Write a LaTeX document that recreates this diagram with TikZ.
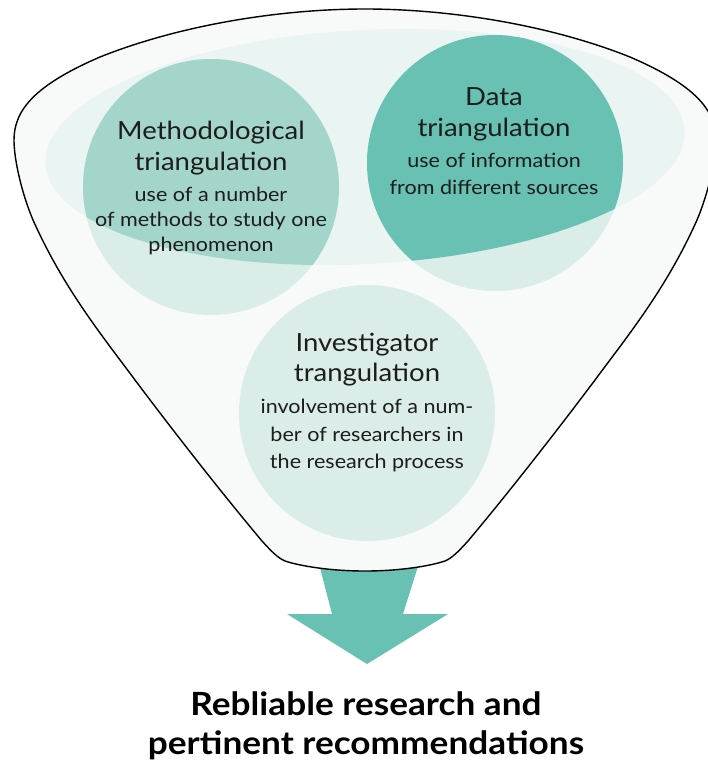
\documentclass[tikz,border=0pt]{standalone}
\usepackage{fontspec}
\setmainfont{Lato}[FakeStretch=1.1]
\definecolor{funnelbg}{HTML}{F7FAF9}
\definecolor{bandcol}{HTML}{EAF5F3}
\definecolor{palecol}{HTML}{DAEDE8}
\definecolor{midcol}{HTML}{A3D5CB}
\definecolor{tealcol}{HTML}{68C1B3}
\definecolor{inkcol}{HTML}{1D1D1B}
\tikzset{
  bubble/.style={circle, inner sep=0pt, minimum size=256pt, fill=palecol},
  ttl/.style={anchor=base, inner sep=0pt, text=inkcol, font=\fontsize{25}{30}\selectfont},
  bdy/.style={anchor=base, inner sep=0pt, text=inkcol, font=\fontsize{19.6}{24}\selectfont},
  res/.style={anchor=base, inner sep=0pt, text=black, font=\bfseries\fontsize{32}{36}\selectfont},
  bandshape/.style={rotate around={3:(365,147)}}
}
\begin{document}
\begin{tikzpicture}[x=1pt,y=-1pt]
\useasboundingbox (0,0) rectangle (707,763);

% output arrow below the funnel
\fill[tealcol] (318,560) -- (420,560) -- (403,614) -- (448,614) -- (367,664)
  -- (287,614) -- (332,614) -- cycle;

% funnel body
\path[fill=funnelbg, draw=black, line width=1.4pt]
  (365,571) .. controls (330,571) and (300,566) .. (285,561)
  .. controls (278,558) and (272,552) .. (262,541)
  .. controls (215,485) and (165,420) .. (135,380)
  .. controls (100,333) and (63,287) .. (33,220)
  .. controls (22,194) and (14,160) .. (14,140)
  .. controls (14,110) and (35,85) .. (100,57)
  .. controls (180,25) and (280,9) .. (365,9)
  .. controls (450,9) and (550,25) .. (630,57)
  .. controls (695,85) and (716,110) .. (716,140)
  .. controls (716,160) and (708,194) .. (697,220)
  .. controls (667,287) and (630,333) .. (595,380)
  .. controls (565,420) and (515,485) .. (468,541)
  .. controls (458,552) and (452,558) .. (445,561)
  .. controls (430,566) and (400,571) .. (365,571) -- cycle;

% light band across the funnel mouth
\fill[bandcol, bandshape] (365,147) ellipse [x radius=320pt, y radius=117pt];

% the three triangulation bubbles
\node[bubble] (method) at (211,187) {};
\node[bubble] (data) at (495,163) {};
\node[bubble] (invest) at (367,413) {};

% darker parts where the bubbles meet the band
\begin{scope}
  \clip[bandshape] (365,147) ellipse [x radius=320pt, y radius=117pt];
  \fill[midcol] (method.center) circle [radius=128pt];
  \fill[tealcol] (data.center) circle [radius=128pt];
\end{scope}

% methodological triangulation
\node[ttl] (m1) at (211,139) {Methodological};
\node[ttl] (m2) at (211,170) {triangulation};
\node[bdy] (m3) at (211,201.5) {use of a number};
\node[bdy] (m4) at (211,226.5) {of methods to study one};
\node[bdy] (m5) at (211,251.5) {phenomenon};

% data triangulation
\node[ttl] (d1) at (494,105) {Data};
\node[ttl] (d2) at (494,136) {triangulation};
\node[bdy] (d3) at (494,167) {use of information};
\node[bdy] (d4) at (494,194) {from different sources};

% investigator triangulation
\node[ttl] (i1) at (367,351.5) {Investigator};
\node[ttl] (i2) at (367,381.5) {trangulation};
\node[bdy] (i3) at (367,413) {involvement of a num-};
\node[bdy] (i4) at (367,441) {ber of researchers in};
\node[bdy] (i5) at (367,468) {the research process};

% outcome
\node[res] (r1) at (366,715) {Rebliable research and};
\node[res] (r2) at (366,754) {pertinent recommendations};
\end{tikzpicture}
\end{document}
